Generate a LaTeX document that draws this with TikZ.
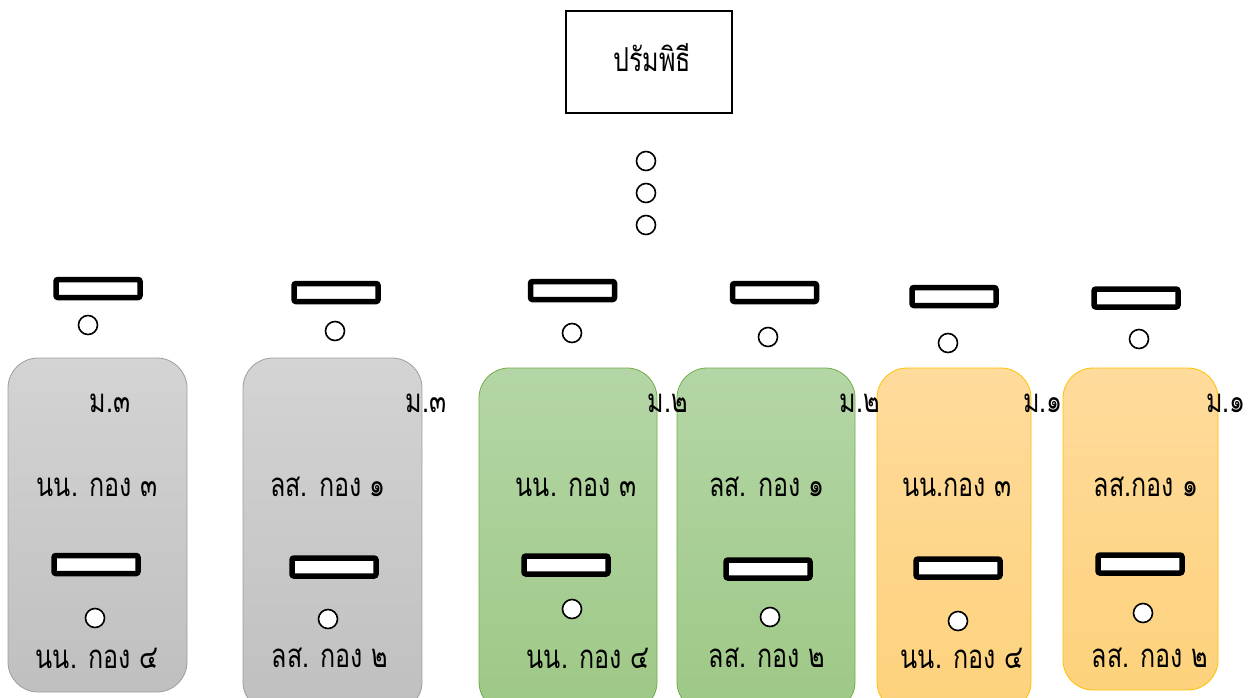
\documentclass[tikz,border=0pt]{standalone}
\usepackage{fontspec}
\newfontfamily\thaifont[Script=Thai,FakeStretch=0.76]{Loma}
\tikzset{
  title/.style={draw, line width=1.5pt, minimum width=166pt, minimum height=102pt},
  dot/.style={circle, draw, line width=1.6pt, fill=white, minimum size=19pt, inner sep=0pt},
  bar/.style={draw, line width=5.5pt, fill=white, rounded corners=2pt, minimum width=84pt, minimum height=18pt, inner sep=0pt},
  lbl/.style={font=\thaifont\fontsize{33}{36}\selectfont, inner sep=0pt},
  graybox/.style={draw=black!38, line width=0.8pt, top color=black!17, bottom color=black!25, rounded corners=30pt},
  greenbox/.style={draw={rgb,255:red,112;green,173;blue,71}, line width=0.8pt, top color={rgb,255:red,180;green,214;blue,166}, bottom color={rgb,255:red,158;green,200;blue,134}, rounded corners=30pt},
  orangebox/.style={draw={rgb,255:red,255;green,192;blue,0}, line width=0.8pt, top color={rgb,255:red,255;green,219;blue,156}, bottom color={rgb,255:red,253;green,210;blue,124}, rounded corners=30pt},
}
\begin{document}
\begin{tikzpicture}[x=1pt,y=-1pt]
\useasboundingbox (0,0) rectangle (1256,697);
% column boxes
\path[graybox] (8,358) rectangle (187,692);
\path[graybox] (243,358) rectangle (422,712);
\path[greenbox] (479,368) rectangle (657,712);
\path[greenbox] (677,368) rectangle (855,712);
\path[orangebox] (877,368) rectangle (1031,712);
\path[orangebox] (1063,368) rectangle (1218,690);
% title
\node[title] (t) at (649,62) {};
\node[lbl] (tt) at (652,58) {ปรัมพิธี};
\node[dot] (d1) at (646,161) {};
\node[dot] (d2) at (646,193) {};
\node[dot] (d3) at (646,225) {};
% column 1
\node[bar] (b1) at (98,288.5) {};
\node[dot] (c1) at (88,325) {};
\node[lbl] (m1) at (110,403) {ม.๓};
\node[lbl] (u1) at (97,487) {นน. กอง ๓};
\node[bar] (i1) at (96,564.5) {};
\node[dot] (e1) at (95,618) {};
\node[lbl] (l1) at (97,658) {นน. กอง ๔};
% column 2
\node[bar] (b2) at (336,292.5) {};
\node[dot] (c2) at (335,331) {};
\node[lbl] (m2) at (426,403) {ม.๓};
\node[lbl] (u2) at (328,487) {ลส. กอง ๑};
\node[bar] (i2) at (334,567) {};
\node[dot] (e2) at (328,619) {};
\node[lbl] (l2) at (330,658) {ลส. กอง ๒};
% column 3
\node[bar] (b3) at (572.5,290.5) {};
\node[dot] (c3) at (572,333) {};
\node[lbl] (m3) at (668,403) {ม.๒};
\node[lbl] (u3) at (576,487) {นน. กอง ๓};
\node[bar] (i3) at (566,565) {};
\node[dot] (e3) at (572,609) {};
\node[lbl] (l3) at (588,658) {นน. กอง ๔};
% column 4
\node[bar] (b4) at (774.5,292.5) {};
\node[dot] (c4) at (768,337) {};
\node[lbl] (m4) at (860,403) {ม.๒};
\node[lbl] (u4) at (767,487) {ลส. กอง ๑};
\node[bar] (i4) at (768,569) {};
\node[dot] (e4) at (770,617) {};
\node[lbl] (l4) at (767,658) {ลส. กอง ๒};
% column 5
\node[bar] (b5) at (954,296.5) {};
\node[dot] (c5) at (948,343) {};
\node[lbl] (m5) at (1043,403) {ม.๑};
\node[lbl] (u5) at (957,487) {นน.กอง ๓};
\node[bar] (i5) at (958,568) {};
\node[dot] (e5) at (958,621) {};
\node[lbl] (l5) at (962,658) {นน. กอง ๔};
% column 6
\node[bar] (b6) at (1136,298) {};
\node[dot] (c6) at (1139,339) {};
\node[lbl] (m6) at (1226,403) {ม.๑};
\node[lbl] (u6) at (1146,487) {ลส.กอง ๑};
\node[bar] (i6) at (1140,564) {};
\node[dot] (e6) at (1143,613) {};
\node[lbl] (l6) at (1150,658) {ลส. กอง ๒};
\end{tikzpicture}
\end{document}
